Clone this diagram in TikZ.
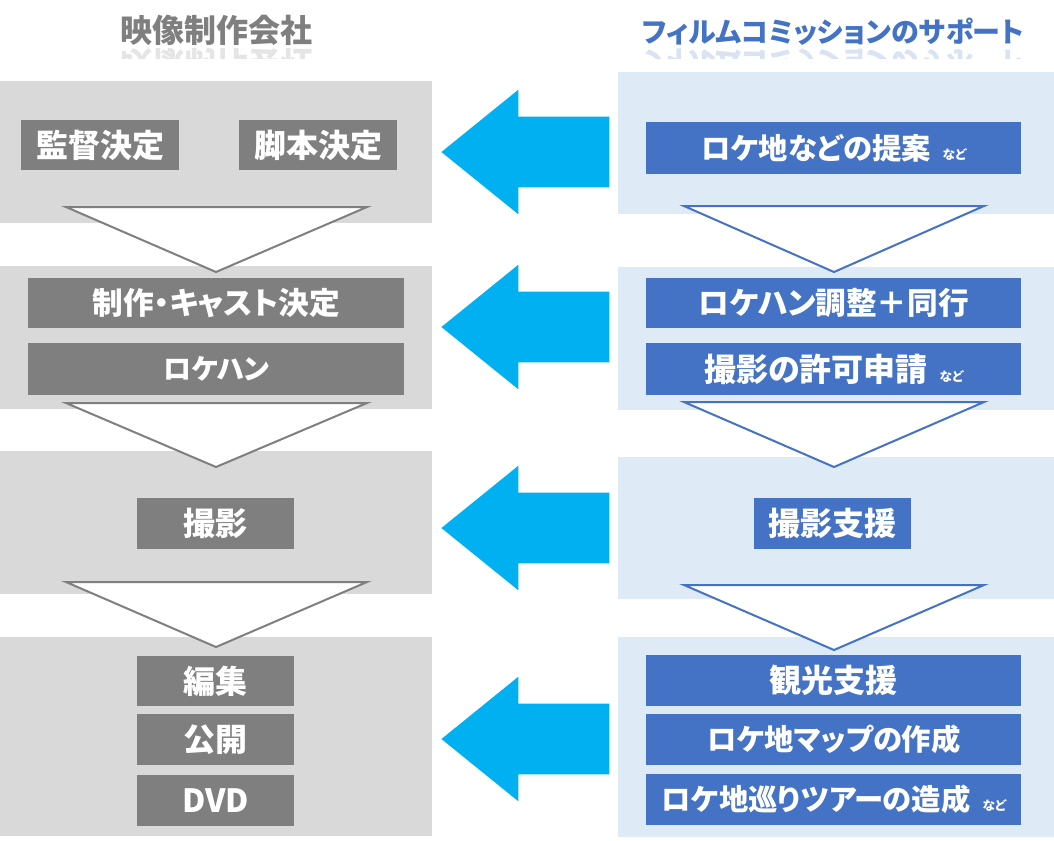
\documentclass[tikz,border=0pt]{standalone}
\usepackage{fontspec}
\setmainfont{Noto Sans CJK JP}[RawFeature=+palt]
\usetikzlibrary{shapes.arrows}
\definecolor{panelgray}{HTML}{D9D9D9}
\definecolor{panelblue}{HTML}{DEEBF7}
\definecolor{boxgray}{HTML}{7F7F7F}
\definecolor{boxblue}{HTML}{4472C4}
\definecolor{arrowcyan}{HTML}{00B0F0}
\newdimen\px \px=0.75pt
\newcommand{\nado}{\hspace{9pt}{\fontsize{9.5}{9.5}\selectfont など}}
\tikzset{
  lpanel/.style={fill=panelgray, anchor=north west, inner sep=0pt, minimum width=432\px},
  rpanel/.style={fill=panelblue, anchor=north west, inner sep=0pt, minimum width=436\px},
  fs/.style={font=\bfseries\fontsize{#1}{#1}\selectfont},
  stepbox/.style={anchor=north west, inner sep=0pt, text=white, fs=24},
  gbox/.style={stepbox, fill=boxgray},
  bbox/.style={stepbox, fill=boxblue},
  gtri/.style={draw=boxgray, fill=white, line width=1.5pt},
  btri/.style={draw=boxblue, fill=white, line width=1.5pt},
  farrow/.style={single arrow, fill=arrowcyan, inner xsep=0pt, inner ysep=35\px,
    minimum height=168\px, single arrow head extend=27\px,
    single arrow tip angle=78, shape border rotate=180, anchor=tip},
  ttl/.style={anchor=base, inner sep=0pt, fs=24},
}
\begin{document}
\begin{tikzpicture}[x=0.75pt, y=-0.75pt]
    \useasboundingbox (0,0) rectangle (1054,840);
    % titles
    \node[ttl, text=boxgray] (prod) at (216,42) {映像制作会社};
    \node[ttl, text=boxblue, fs=21] (fc) at (833,42) {フィルムコミッションのサポート};
    \begin{scope}
        \clip (0,47) rectangle (1054,58);
        \node[ttl, text=boxgray, opacity=0.2, yscale=-1] (prodr) at (216,51) {映像制作会社};
        \node[ttl, text=boxblue, fs=21, opacity=0.2, yscale=-1] (fcr) at (833,51) {フィルムコミッションのサポート};
    \end{scope}
    % panels
    \node[lpanel, minimum height=142\px] (l1) at (0,81) {};
    \node[lpanel, minimum height=143\px] (l2) at (0,266) {};
    \node[lpanel, minimum height=143\px] (l3) at (0,451) {};
    \node[lpanel, minimum height=199\px] (l4) at (0,637) {};
    \node[rpanel, minimum height=142\px] (r1) at (618,72) {};
    \node[rpanel, minimum height=143\px] (r2) at (618,267) {};
    \node[rpanel, minimum height=142\px] (r3) at (618,457) {};
    \node[rpanel, minimum height=200\px] (r4) at (618,637) {};
    % production company
    \node[gbox, minimum width=158\px, minimum height=50\px] (kantoku) at (21,120) {監督決定};
    \node[gbox, minimum width=158\px, minimum height=50\px] (kyakuhon) at (239,120) {脚本決定};
    \node[gbox, fs=23, minimum width=376\px, minimum height=50\px] (cast) at (28,278) {制作・キャスト決定};
    \node[gbox, fs=21, minimum width=376\px, minimum height=52\px] (lokehan) at (28,343) {ロケハン};
    \node[gbox, minimum width=157\px, minimum height=51\px] (satsuei) at (137,498) {撮影};
    \node[gbox, minimum width=157\px, minimum height=50\px] (henshu) at (137,656) {編集};
    \node[gbox, minimum width=157\px, minimum height=51\px] (kokai) at (137,714) {公開};
    \node[gbox, minimum width=157\px, minimum height=51\px] (dvd) at (137,775) {DVD};
    % film commission
    \node[bbox, fs=22, minimum width=375\px, minimum height=52\px] (teian) at (646,122) {ロケ地などの提案\nado};
    \node[bbox, fs=23, minimum width=375\px, minimum height=50\px] (chosei) at (646,278) {ロケハン調整＋同行};
    \node[bbox, minimum width=375\px, minimum height=52\px] (kyoka) at (646,343) {撮影の許可申請\nado};
    \node[bbox, minimum width=157\px, minimum height=51\px] (shien) at (754,498) {撮影支援};
    \node[bbox, minimum width=375\px, minimum height=51\px] (kanko) at (646,655) {観光支援};
    \node[bbox, fs=22, minimum width=375\px, minimum height=51\px] (map) at (646,714) {ロケ地マップの作成};
    \node[bbox, fs=22, minimum width=375\px, minimum height=51\px] (tour) at (646,774) {ロケ地巡りツアーの造成\nado};
    % flow triangles
    \foreach \t/\a in {207/272, 403/467, 582/647}
        \draw[gtri] (66,\t) -- (367,\t) -- (216,\a) -- cycle;
    \foreach \t/\a in {206/272, 402/467, 585/650}
        \draw[btri] (684,\t) -- (984,\t) -- (834,\a) -- cycle;
    % support arrows
    \node[farrow] (a1) at (441,152) {};
    \node[farrow] (a2) at (441,327) {};
    \node[farrow] (a3) at (441,528) {};
    \node[farrow] (a4) at (441,739) {};
\end{tikzpicture}
\end{document}
